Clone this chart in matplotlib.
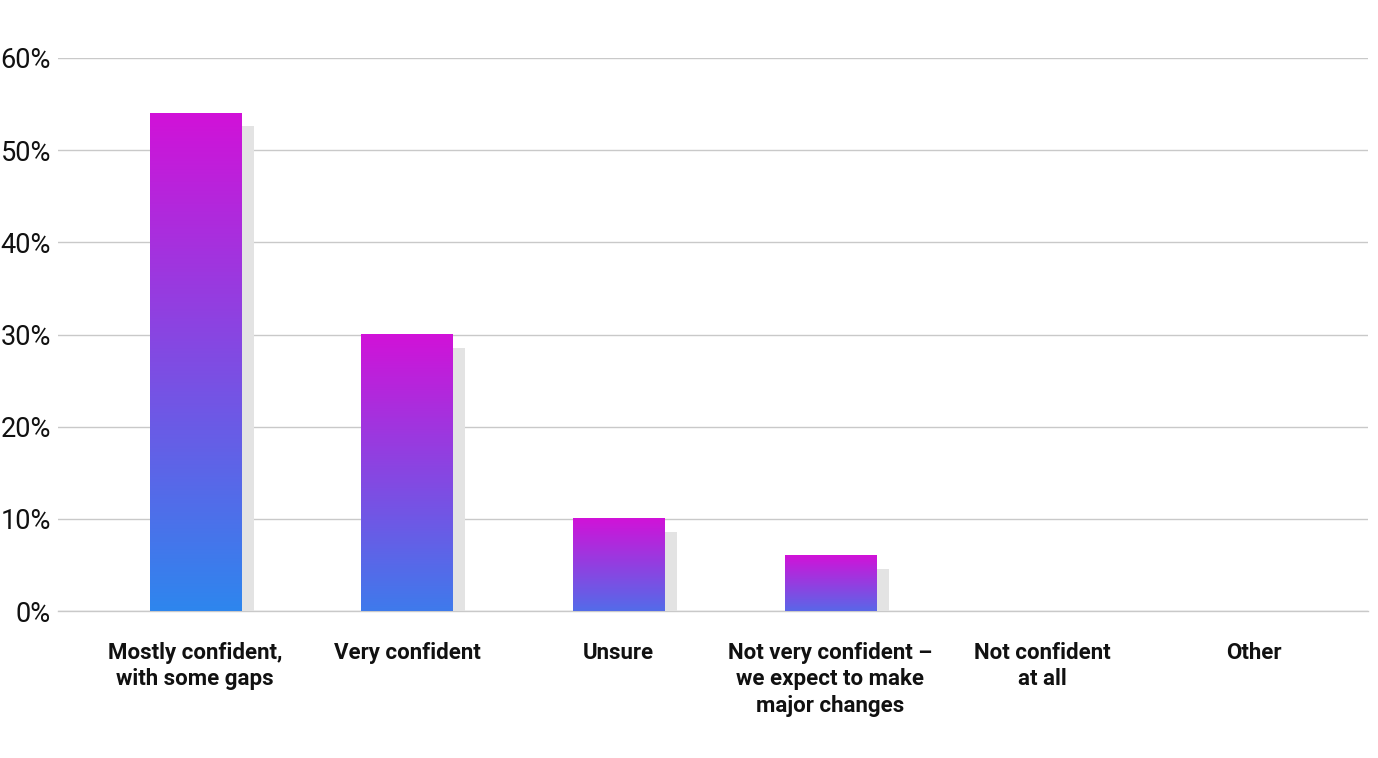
import numpy as np
import matplotlib
matplotlib.use("Agg")
import matplotlib.pyplot as plt
from matplotlib.colors import to_rgb

categories = ["Mostly confident,\nwith some gaps", "Very confident", "Unsure",
              "Not very confident \u2013\nwe expect to make\nmajor changes",
              "Not confident\nat all", "Other"]
values = [54, 30, 10, 6, 0, 0]
yticks = [0, 10, 20, 30, 40, 50, 60]

plt.rcParams['font.family'] = ['Roboto', 'DejaVu Sans']

top_col = np.array(to_rgb("#d112d8"))
bot_col = np.array(to_rgb("#2e86ee"))

fig = plt.figure(figsize=(13.78, 7.58), dpi=100)
ax = fig.add_axes([0.0421, 0.1939, 0.9506, 0.7296])

width = 0.43
dx = 0.0615   # shadow offset (x units)
dy = 1.41     # shadow offset (y units)
x = np.arange(len(categories))

for xi, v in zip(x, values):
    if v <= 0:
        continue
    # shadow
    ax.bar(xi + dx, v - dy, width=width, bottom=0, color="#e3e3e3",
           zorder=2, linewidth=0)
    # gradient bar
    frac = 0.6 + 0.4 * np.sqrt(v / max(values))
    bottom = top_col + (bot_col - top_col) * frac
    t = np.linspace(0, 1, 256)[:, None]
    grad = top_col[None, :] * (1 - t) + bottom[None, :] * t
    grad = grad[:, None, :]
    ax.imshow(grad, extent=[xi - width / 2, xi + width / 2, 0, v],
              aspect='auto', origin='upper', zorder=3, interpolation='bilinear')

ax.set_xlim(-0.648, 5.54)
ax.set_ylim(0, 60)
ax.set_yticks(yticks)
ax.set_yticklabels([f"{t}%" for t in yticks], fontsize=19.5, color="#111111")
ax.set_xticks(x)
ax.set_xticklabels(categories, fontsize=16, fontweight='bold', color="#111111",
                   linespacing=1.28, va='top')
ax.tick_params(axis='both', length=0)
ax.tick_params(axis='y', pad=5)
ax.tick_params(axis='x', pad=22)
ax.grid(axis='y', color="#c9c9c9", linewidth=1, zorder=0)
ax.axhline(0, color="#c9c9c9", linewidth=1, zorder=1, clip_on=False)
ax.set_axisbelow(True)
for s in ax.spines.values():
    s.set_visible(False)

fig.savefig("out.png", dpi=100, facecolor="white")
